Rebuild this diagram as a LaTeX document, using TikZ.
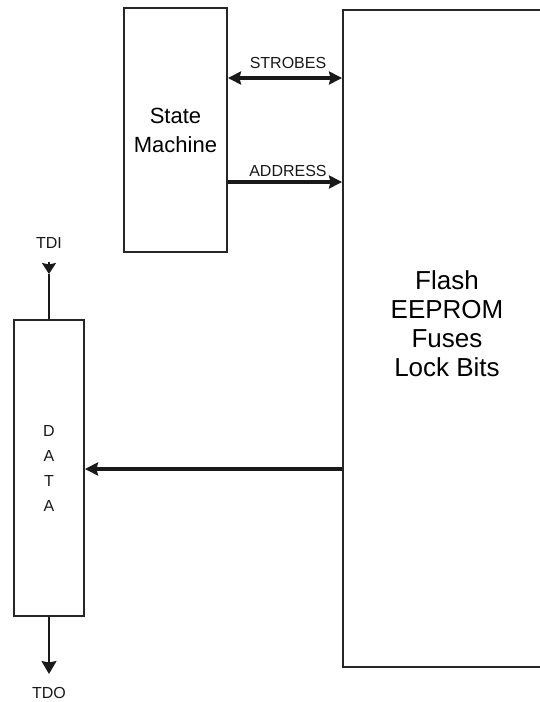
\documentclass[tikz,border=0pt]{standalone}
\usepackage{fontspec}
\setmainfont{Liberation Sans}
\usetikzlibrary{arrows.meta}
\begin{document}
\begin{tikzpicture}[x=1pt,y=-1pt,
  box/.style={draw=black!85,line width=1.9pt,inner sep=0pt,anchor=center},
  bus/.style={line width=3.6pt,black!90},
  sig/.style={line width=1.8pt,black!90},
  lbl/.style={font=\fontsize{16}{16}\selectfont,inner sep=0pt,text=black!90}]
\useasboundingbox (0,0) rectangle (539,702);
\node[box,minimum width=103pt,minimum height=244pt,align=center,
  font=\fontsize{22}{29}\selectfont] (sm) at (175.5,130) {State\\Machine};
\node[box,minimum width=208pt,minimum height=657pt] (fl) at (447,338.5) {};
\node[align=center,font=\fontsize{26}{29}\selectfont,inner sep=0pt] (fltxt) at (447,324) {Flash\\EEPROM\\Fuses\\Lock Bits};
\node[box,minimum width=70pt,minimum height=296pt] (data) at (49,468) {};
\node[lbl] (d1) at (49,431) {D};
\node[lbl] (d2) at (49,456) {A};
\node[lbl] (d3) at (49,481) {T};
\node[lbl] (d4) at (49,506) {A};
\coordinate (sA) at (sm.east |- 0,78);
\coordinate (fA) at (fl.west |- 0,78);
\coordinate (sB) at (sm.east |- 0,182);
\coordinate (fB) at (fl.west |- 0,182);
\coordinate (fC) at (fl.west |- 0,469);
\coordinate (dC) at (data.east |- 0,469);
\draw[bus,{Stealth[length=13pt,width=13pt,inset=1.5pt]}-{Stealth[length=13pt,width=13pt,inset=1.5pt]}] (sA) -- (fA);
\draw[bus,-{Stealth[length=13pt,width=13pt,inset=1.5pt]}] (sB) -- (fB);
\draw[bus,-{Stealth[length=13pt,width=13pt,inset=1.5pt]}] (fC) -- (dC);
\node[lbl] (strobes) at (288,63) {STROBES};
\node[lbl] (address) at (288,171) {ADDRESS};
\node[lbl] (tdi) at (49,243) {TDI};
\node[lbl] (tdo) at (49,693) {TDO};
\coordinate (tdiA) at (49,262);
\coordinate (tdiB) at (49,274);
\coordinate (tdoB) at (49,674);
\draw[sig,-{Stealth[length=11pt,width=14pt,inset=1.5pt]}] (tdiA) -- (tdiB);
\draw[sig] (tdiB) -- (data.north);
\draw[sig,-{Stealth[length=13pt,width=15pt,inset=1.5pt]}] (data.south) -- (tdoB);
\end{tikzpicture}
\end{document}
